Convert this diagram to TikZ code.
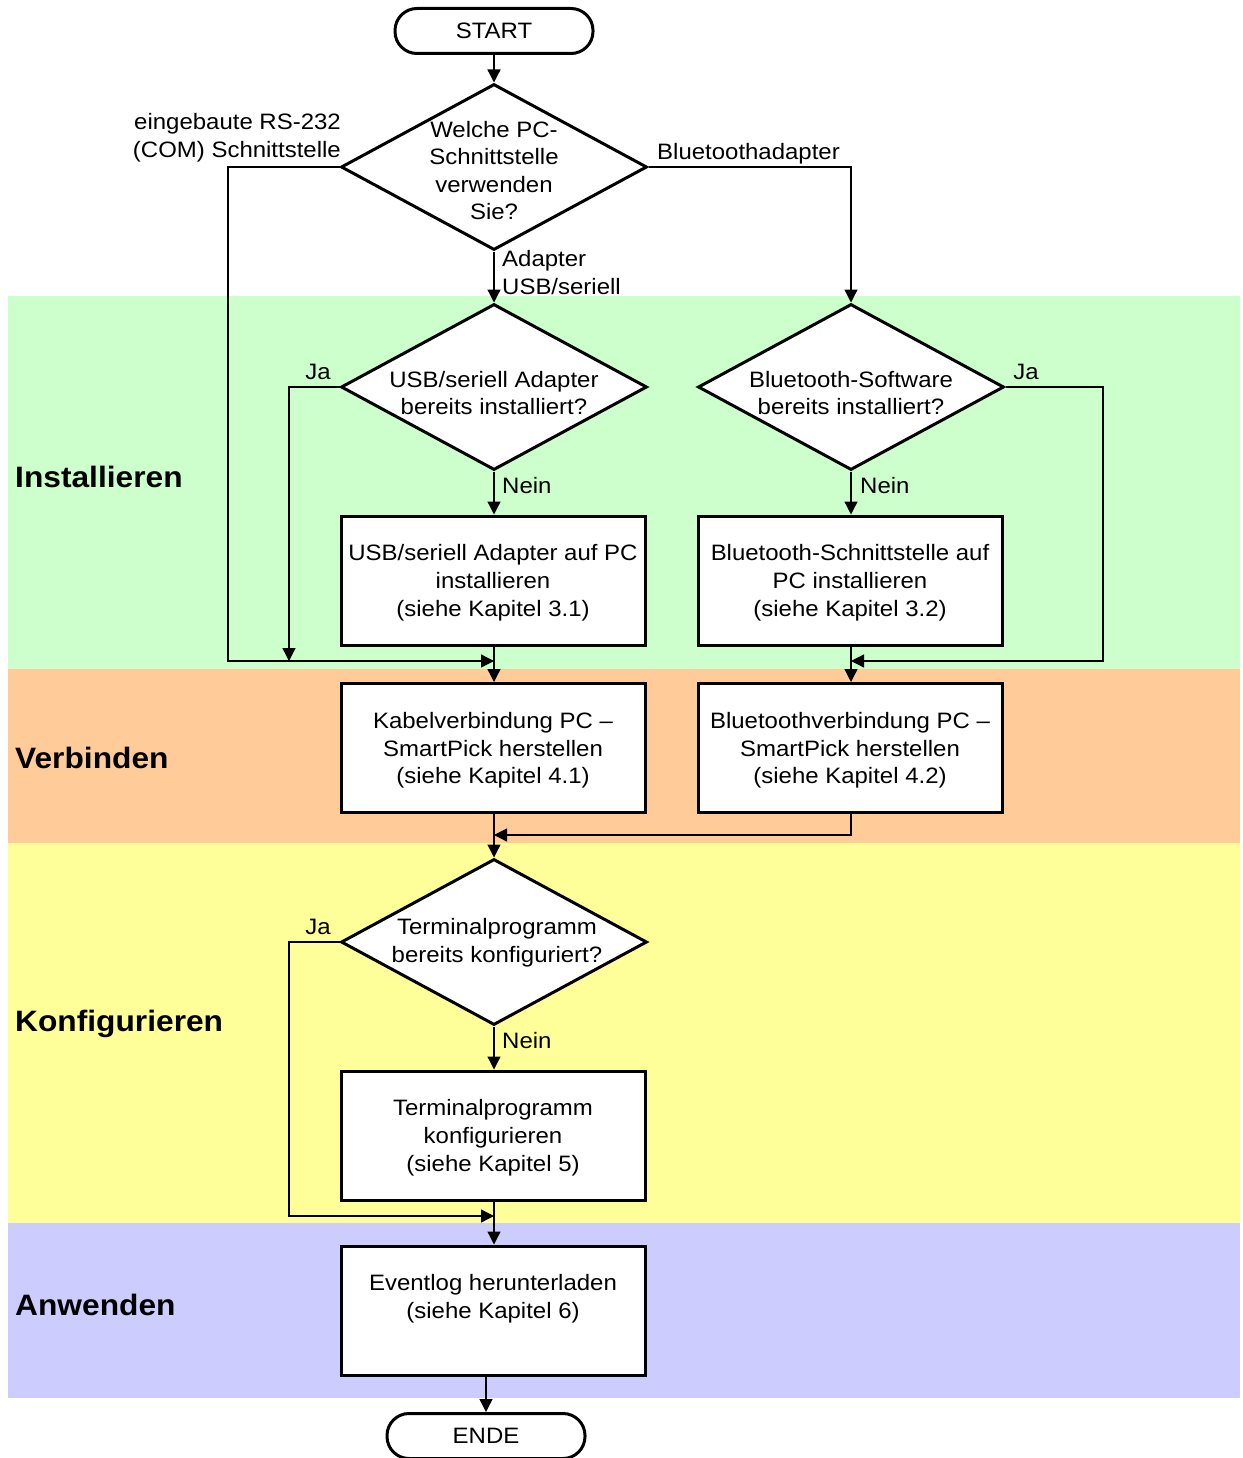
\documentclass[tikz,border=0pt]{standalone}
\usepackage{fontspec}
\setmainfont{Liberation Sans}[FakeStretch=1.075]
\usetikzlibrary{shapes.geometric,arrows.meta}
\definecolor{bgreen}{HTML}{CCFFCC}
\definecolor{borange}{HTML}{FFCC99}
\definecolor{byellow}{HTML}{FFFF99}
\definecolor{bpurple}{HTML}{CCCCFF}
\tikzset{
  txt/.style={font=\fontsize{22.3}{27.6}\selectfont, align=center},
  dec/.style={draw, line width=3pt, fill=white, shape=diamond, inner sep=0pt,
              minimum width=306pt, minimum height=166pt},
  dtxt/.style={txt, inner sep=0pt},
  proc/.style={txt, draw, line width=3pt, fill=white, rectangle, inner sep=0pt,
              minimum width=304pt, minimum height=129pt, text depth=0pt},
  term/.style={txt, draw, line width=3pt, fill=white, rectangle, rounded corners=22pt,
              inner sep=0pt, minimum width=198pt, minimum height=45pt},
  conn/.style={line width=1.3pt, -{Triangle[length=13pt,width=13pt]}},
  lbl/.style={txt, inner sep=0pt},
  band/.style={font=\bfseries\fontsize{29.5}{34}\selectfont, inner sep=0pt, anchor=west}
}
\begin{document}
\begin{tikzpicture}[x=1pt,y=-1pt]
\useasboundingbox (0,0) rectangle (1242,1458);
% bands
\fill[bgreen]  (8,296) rectangle (1240,669);
\fill[borange] (8,669) rectangle (1240,843);
\fill[byellow] (8,843) rectangle (1240,1223);
\fill[bpurple] (8,1223) rectangle (1240,1398);
\node[band] (lInst) at (15,477) {Installieren};
\node[band] (lVerb) at (15,758) {Verbinden};
\node[band] (lKonf) at (15,1024) {Konfigurieren};
\node[band] (lAnw)  at (15,1305) {Anwenden};

% nodes
\node[term] (start) at (494,31) {START};
\node[dec] (d1) at (494,167) {};
\node[dtxt] (d1t) at (494,170.5) {Welche PC-\\Schnittstelle\\verwenden\\Sie?};
\node[dec] (d2) at (494,387) {};
\node[dtxt] (d2t) at (494,393) {USB/seriell Adapter\\bereits installiert?};
\node[dec] (d3) at (851,387) {};
\node[dtxt] (d3t) at (851,393) {Bluetooth-Software\\bereits installiert?};
\node[proc] (b1) at (493,580.5) {USB/seriell Adapter auf PC\\installieren\\(siehe Kapitel 3.1)};
\node[proc] (b2) at (850,580.5) {Bluetooth-Schnittstelle auf\\PC installieren\\(siehe Kapitel 3.2)};
\node[proc] (b3) at (493,748) {Kabelverbindung PC –\\SmartPick herstellen\\(siehe Kapitel 4.1)};
\node[proc] (b4) at (850,748) {Bluetoothverbindung PC –\\SmartPick herstellen\\(siehe Kapitel 4.2)};
\node[dec] (d4) at (494,942) {};
\node[dtxt] (d4t) at (497,943) {Terminalprogramm\\bereits konfiguriert?};
\node[proc] (b5) at (493,1135.5) {Terminalprogramm\\konfigurieren\\(siehe Kapitel 5)};
\node[proc] (b6) at (493,1310.5) {Eventlog herunterladen\\(siehe Kapitel 6)\\\strut};
\node[term] (ende) at (486,1436) {ENDE};

% helper coordinates
\coordinate (cCom) at (228,661);
\coordinate (j1) at (494,661);
\coordinate (cJa1) at (289,661);
\coordinate (cJa2) at (1103,661);
\coordinate (j2) at (851,661);
\coordinate (j3) at (494,835);
\coordinate (cJa3) at (289,1216);
\coordinate (j4) at (494,1216);

% connectors
\draw[conn] (start) -- (d1.north);
\draw[conn] (d1.west) -| (cCom) -- (j1);
\draw[conn] (d1.east) -| (d3.north);
\draw[conn] (d1.south) -- (d2.north);
\draw[conn] (d2.west) -| (cJa1);
\draw[conn] (d2.south) -- (b1.north -| d2.south);
\draw[conn] (d3.south) -- (b2.north -| d3.south);
\draw[conn] (d3.east) -| (cJa2) -- (j2);
\draw[conn] (b1.south -| j1) -- (b3.north -| j1);
\draw[conn] (b2.south -| j2) -- (b4.north -| j2);
\draw[conn] (b4.south -| j2) |- (j3);
\draw[conn] (b3.south -| j3) -- (d4.north);
\draw[conn] (d4.west) -| (cJa3) -- (j4);
\draw[conn] (d4.south) -- (b5.north -| d4.south);
\draw[conn] (b5.south -| j4) -- (b6.north -| j4);
\draw[conn] (b6.south -| ende.north) -- (ende.north);

% edge labels
\node[lbl, align=right, anchor=east] (lCom) at (341,137.5) {eingebaute RS-232\\(COM) Schnittstelle};
\node[lbl, anchor=west] (lBt) at (657,154) {Bluetoothadapter};
\node[lbl, align=left, anchor=west] (lUsb) at (502,272.5) {Adapter\\USB/seriell};
\node[lbl] (lJa1) at (318,372) {Ja};
\node[lbl] (lJa2) at (1026,372) {Ja};
\node[lbl] (lJa3) at (318,927) {Ja};
\node[lbl, anchor=west] (lN1) at (502,486) {Nein};
\node[lbl, anchor=west] (lN2) at (860,486) {Nein};
\node[lbl, anchor=west] (lN3) at (502,1041) {Nein};
\end{tikzpicture}
\end{document}
